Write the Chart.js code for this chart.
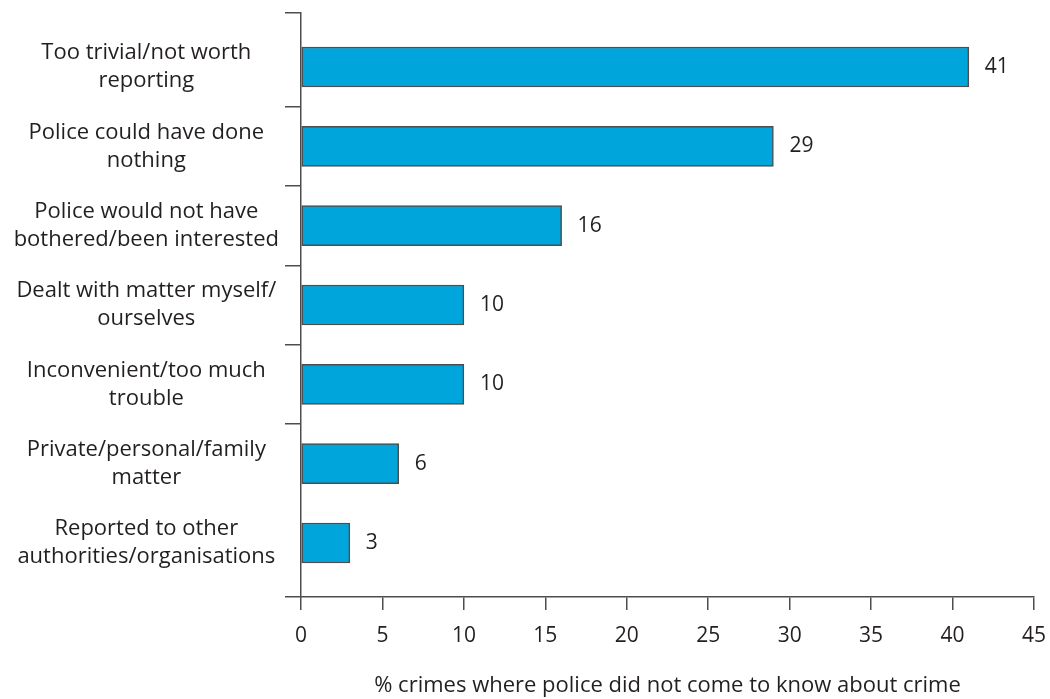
<!DOCTYPE html>
<html>
<head>
<meta charset="utf-8">
<script src="https://cdn.jsdelivr.net/npm/chart.js@4.4.1/dist/chart.umd.min.js"></script>
<style>
    html, body { margin: 0; padding: 0; background: #ffffff; }
    #wrap { width: 1050px; height: 699px; }
</style>
</head>
<body>
<div id="wrap"><canvas id="chart" width="1050" height="699"></canvas></div>
<script>
    // Reasons for not reporting, top to bottom
    const categories = [
        ['Too trivial/not worth', 'reporting'],
        ['Police could have done', 'nothing'],
        ['Police would not have', 'bothered/been interested'],
        ['Dealt with matter myself/', 'ourselves'],
        ['Inconvenient/too much', 'trouble'],
        ['Private/personal/family', 'matter'],
        ['Reported to other', 'authorities/organisations']
    ];
    const values = [41, 29, 16, 10, 10, 6, 3];
    const xTicks = [0, 5, 10, 15, 20, 25, 30, 35, 40, 45];
    const xTitle = '% crimes where police did not come to know about crime';

    const fontFamily = '"Open Sans", "Noto Sans", sans-serif';
    const textColor = '#231f20';
    const axisColor = '#4d4d4d';
    const yMin = -0.68;
    const yMax = categories.length - 1 + 0.68;

    // bar value labels, placed after the bar end
    const valueLabels = {
        id: 'valueLabels',
        afterDatasetsDraw(chart) {
            const ctx = chart.ctx;
            const meta = chart.getDatasetMeta(0);
            ctx.save();
            ctx.font = '21px ' + fontFamily;
            ctx.fillStyle = textColor;
            ctx.textAlign = 'left';
            ctx.textBaseline = 'middle';
            meta.data.forEach(function(bar, i) {
                ctx.fillText(String(values[i]), bar.x + 16, bar.y);
            });
            ctx.restore();
        }
    };

    const chart = new Chart(document.getElementById('chart'), {
        type: 'bar',
        data: {
            datasets: [{
                data: values.map((v, i) => ({ x: v, y: i })),
                backgroundColor: '#00a5db',
                borderColor: '#4d4d4d',
                borderWidth: 1.5,
                borderSkipped: false,
                barThickness: 40
            }]
        },
        options: {
            indexAxis: 'y',
            responsive: false,
            animation: false,
            layout: { padding: { top: 13, right: 16, left: 0, bottom: 0 } },
            plugins: {
                legend: { display: false },
                tooltip: { enabled: false }
            },
            scales: {
                x: {
                    type: 'linear',
                    position: 'bottom',
                    min: 0,
                    max: 45,
                    afterBuildTicks: function(scale) {
                        scale.ticks = xTicks.map(v => ({ value: v }));
                    },
                    afterFit: function(scale) {
                        scale.height = 102;
                        scale.paddingRight = 0;
                    },
                    grid: {
                        drawOnChartArea: false,
                        tickLength: 13,
                        color: axisColor,
                        lineWidth: 1.5
                    },
                    border: { display: true, color: axisColor, width: 1.5 },
                    ticks: {
                        color: textColor,
                        font: { family: fontFamily, size: 21 },
                        padding: 13,
                        maxRotation: 0
                    },
                    title: {
                        display: true,
                        text: xTitle,
                        color: textColor,
                        font: { family: fontFamily, size: 22, lineHeight: 1.2 },
                        padding: { top: 10, bottom: 0 }
                    }
                },
                y: {
                    type: 'linear',
                    position: 'left',
                    reverse: true,
                    offset: false,
                    min: yMin,
                    max: yMax,
                    afterBuildTicks: function(scale) {
                        const t = [yMin];
                        for (let i = 0; i < categories.length; i++) {
                            t.push(i);
                            if (i < categories.length - 2) t.push(i + 0.5);
                        }
                        t.push(yMax);
                        scale.ticks = t.map(v => ({ value: v }));
                    },
                    afterFit: function(scale) {
                        scale.width = 301;
                        scale.paddingTop = 0;
                        scale.paddingBottom = 0;
                    },
                    grid: {
                        offset: false,
                        drawOnChartArea: false,
                        tickLength: 16,
                        lineWidth: 1.5,
                        color: ctx => (ctx.tick && Number.isInteger(ctx.tick.value)) ? 'rgba(0,0,0,0)' : axisColor
                    },
                    border: { display: true, color: axisColor, width: 1.5 },
                    ticks: {
                        autoSkip: false,
                        crossAlign: 'center',
                        color: textColor,
                        font: { family: fontFamily, size: 22, lineHeight: 1.27 },
                        padding: 6,
                        callback: function(value) {
                            return Number.isInteger(value) ? categories[value] : '';
                        }
                    }
                }
            }
        },
        plugins: [valueLabels]
    });
</script>
</body>
</html>
